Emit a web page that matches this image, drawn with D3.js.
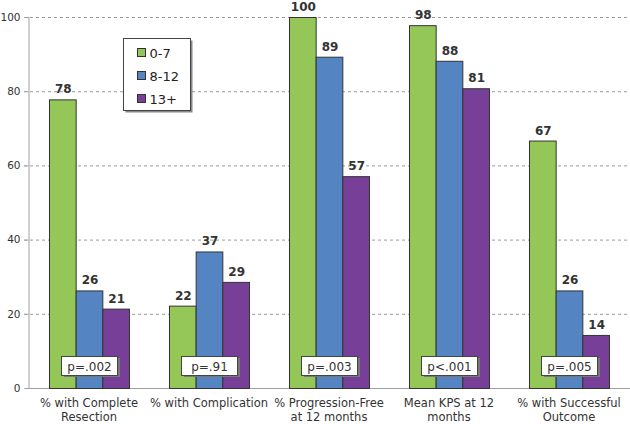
<!DOCTYPE html>
<html><head><meta charset="utf-8">
<script src="https://cdn.jsdelivr.net/npm/d3@7"></script>
<style>body{margin:0;background:#fff;}svg{display:block;font-family:"DejaVu Sans",Verdana,sans-serif;}</style>
</head><body><svg id="c" width="630" height="424"></svg>
<script>
const categories = [["% with Complete","Resection"],["% with Complication"],["% Progression-Free","at 12 months"],["Mean KPS at 12","months"],["% with Successful","Outcome"]];
const series = ["0-7","8-12","13+"];
const values07 = [77.8,22.2,100,97.8,66.7];
const values812 = [26.3,36.8,89.3,88.2,26.3];
const values13 = [21.4,28.6,57.1,80.8,14.3];
const pValues = ["p=.002","p=.91","p=.003","p<.001","p=.005"];
const yTicks = [0,20,40,60,80,100];
const colors = ["#94c658","#5484c2","#773f97"];

const svg = d3.select("#c");
const x = d3.scaleBand().domain(d3.range(categories.length)).range([29,629]).paddingInner(1/3).paddingOuter(1/6);
const xs = d3.scaleBand().domain(d3.range(series.length)).range([0,x.bandwidth()]);
const y = d3.scaleLinear().domain([0,100]).range([388,17]);
const allVals = [values07,values812,values13];

// grid
svg.append("g").selectAll("line").data(yTicks.filter(d=>d>0)).join("line")
  .attr("x1",24).attr("x2",630).attr("y1",d=>y(d)+0.5).attr("y2",d=>y(d)+0.5)
  .attr("stroke","#9a9a9a").attr("stroke-dasharray","3,3");
// y axis
const ya = svg.append("g").attr("transform","translate(28.5,0)").call(d3.axisLeft(y).tickValues(yTicks).tickSize(4).tickPadding(4));
ya.select(".domain").attr("stroke","#a0a0a0");
ya.selectAll(".tick line").attr("stroke","#a0a0a0");
ya.selectAll("text").attr("font-size","10.5px").attr("fill","#333").attr("font-family","DejaVu Sans, Verdana, sans-serif");
// baseline
svg.append("line").attr("x1",28).attr("x2",630).attr("y1",388.5).attr("y2",388.5).attr("stroke","#a0a0a0");

// bars
const g = svg.append("g");
allVals.forEach((vals,si)=>{
  g.append("g").selectAll("rect").data(vals).join("rect")
    .attr("x",(d,i)=>x(i)+xs(si)+0.5).attr("width",xs.bandwidth())
    .attr("y",d=>y(d)+0.5).attr("height",d=>y(0)-y(d))
    .attr("fill",colors[si]).attr("stroke","#333").attr("stroke-width",1);
  g.append("g").selectAll("text").data(vals).join("text")
    .attr("x",(d,i)=>x(i)+xs(si)+xs.bandwidth()/2+1).attr("y",d=>y(d)-6)
    .attr("text-anchor","middle").attr("font-size","12px").attr("font-weight","bold").attr("fill","#333")
    .text(d=>Math.round(d));
});

// p value boxes
const pb = svg.append("g").selectAll("g").data(pValues).join("g")
  .attr("transform",(d,i)=>`translate(${x(i)+x.bandwidth()/2+1},366)`);
pb.append("rect").attr("x",-26).attr("y",-8).attr("width",56).attr("height",19).attr("fill","#777");
pb.append("rect").attr("x",-28.5).attr("y",-9.5).attr("width",56).attr("height",19).attr("fill","#fff").attr("stroke","#444");
pb.append("text").attr("y",4.5).attr("x",-0.5).attr("text-anchor","middle").attr("font-size","12px").attr("fill","#333").text(d=>d);

// category labels
const cl = svg.append("g").selectAll("text").data(categories).join("text")
  .attr("x",(d,i)=>x(i)+x.bandwidth()/2).attr("y",407)
  .attr("text-anchor","middle").attr("font-size","11.5px").attr("fill","#333");
cl.selectAll("tspan").data(d=>d).join("tspan")
  .attr("x",function(){return d3.select(this.parentNode).attr("x");})
  .attr("dy",(d,i)=>i===0?0:14).text(d=>d);

// legend
const lg = svg.append("g").attr("transform","translate(123.5,38.5)");
lg.append("rect").attr("x",2).attr("y",2).attr("width",67).attr("height",72).attr("fill","#888");
lg.append("rect").attr("width",67).attr("height",72).attr("fill","#fff").attr("stroke","#444");
const li = lg.selectAll("g").data(series).join("g").attr("transform",(d,i)=>`translate(14,${10+i*23})`);
li.append("rect").attr("width",8).attr("height",8).attr("fill",(d,i)=>colors[i]).attr("stroke","#333");
li.append("text").attr("x",12).attr("y",9).attr("font-size","13px").attr("fill","#222").text(d=>d);
</script></body></html>
